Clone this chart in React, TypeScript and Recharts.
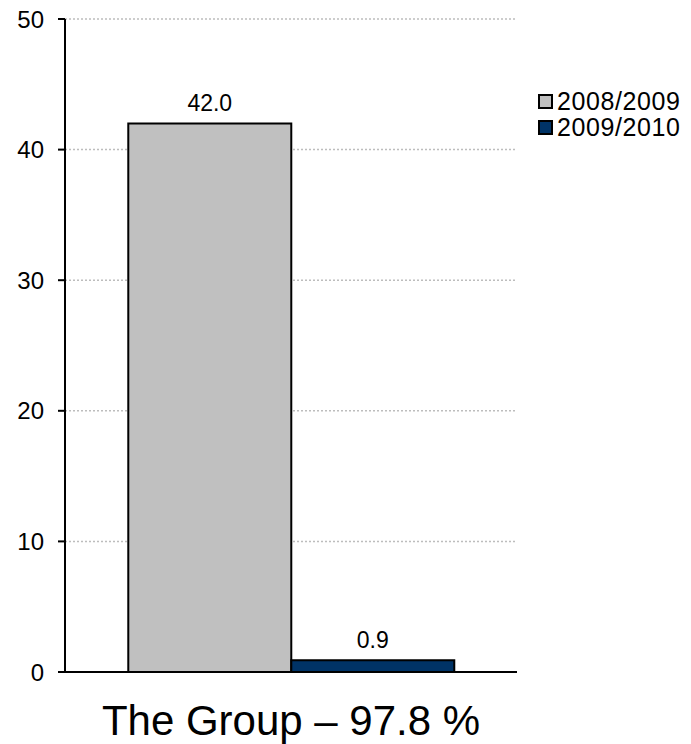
import React from 'react';
import { BarChart, Bar, XAxis, YAxis, CartesianGrid, LabelList } from 'recharts';

const categories = ['The Group – 97.8 %'];
const values2008 = [42.0];
const values2009 = [0.9];
const seriesNames = ['2008/2009', '2009/2010'];
const seriesColors = ['#c0c0c0', '#003366'];
const yTicks = [0, 10, 20, 30, 40, 50];

const data = categories.map((name, i) => ({
  name,
  a: values2008[i],
  b: values2009[i],
}));

const FONT = 'Arial, "Liberation Sans", sans-serif';

const XTick = (props: any) => {
  const { x, y, payload } = props;
  return (
    <text x={x} y={y + 63} textAnchor="middle" fontSize={42} fontFamily={FONT} fill="#000">
      {payload.value}
    </text>
  );
};

// legend drawn as a plain overlay so it takes no room from the plot
const LegendBox = () => (
  <div style={{ position: 'absolute', left: 538, top: 88, fontFamily: FONT, fontSize: 25, color: '#000' }}>
    {seriesNames.map((n, i) => (
      <div key={n} style={{ display: 'flex', alignItems: 'center', height: 26, lineHeight: '26px' }}>
        <span
          style={{
            display: 'inline-block',
            width: 11,
            height: 11,
            background: seriesColors[i],
            border: '2px solid #000',
            marginRight: 4,
          }}
        />
        <span style={{ letterSpacing: 0.6 }}>{n}</span>
      </div>
    ))}
  </div>
);

export default function App() {
  return (
    <div style={{ position: 'relative', width: 691, height: 744, margin: '-8px 0 0 -8px' }}>
      <BarChart
        width={691}
        height={744}
        data={data}
        margin={{ top: 19, right: 174, left: 0, bottom: 0 }}
        barCategoryGap="14%"
        barGap={0}
      >
        <CartesianGrid vertical={false} stroke="#bdbdbd" strokeDasharray="2 2" strokeWidth={1.5} />
        <XAxis
          dataKey="name"
          height={72}
          tickLine={false}
          tickSize={0}
          tickMargin={0}
          axisLine={{ stroke: '#000', strokeWidth: 2 }}
          tick={<XTick />}
        />
        <YAxis
          width={65}
          domain={[0, 50]}
          ticks={yTicks}
          interval={0}
          tickSize={7}
          tickMargin={14}
          tickLine={{ stroke: '#000', strokeWidth: 2 }}
          axisLine={{ stroke: '#000', strokeWidth: 2 }}
          tick={{ fill: '#000', fontSize: 24, fontFamily: FONT }}
        />
        <Bar dataKey="a" name={seriesNames[0]} fill={seriesColors[0]} stroke="#000" strokeWidth={2} isAnimationActive={false}>
          <LabelList
            dataKey="a"
            position="top"
            offset={12}
            formatter={(v: any) => Number(v).toFixed(1)}
            style={{ fill: '#000', fontSize: 23, fontFamily: FONT }}
          />
        </Bar>
        <Bar dataKey="b" name={seriesNames[1]} fill={seriesColors[1]} stroke="#000" strokeWidth={2} isAnimationActive={false}>
          <LabelList
            dataKey="b"
            position="top"
            offset={12}
            formatter={(v: any) => Number(v).toFixed(1)}
            style={{ fill: '#000', fontSize: 23, fontFamily: FONT }}
          />
        </Bar>
      </BarChart>
      <LegendBox />
    </div>
  );
}
